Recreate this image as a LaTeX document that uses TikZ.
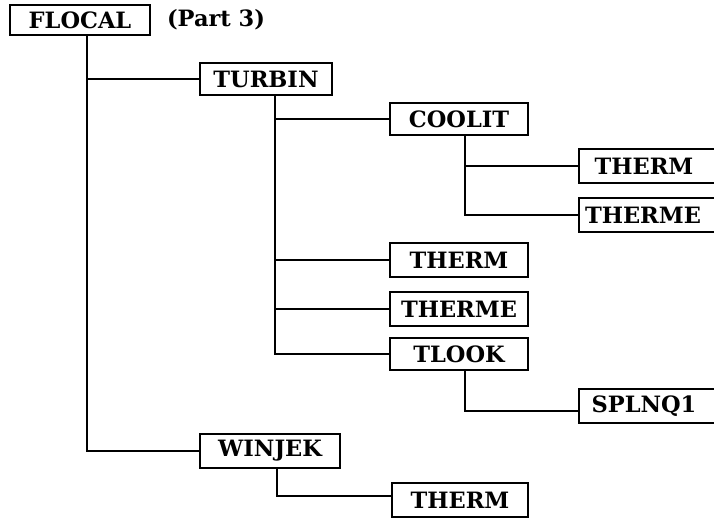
\documentclass[tikz,border=0pt]{standalone}
\usepackage{fontspec}
\setmainfont{DejaVu Serif}
\begin{document}
\begin{tikzpicture}[x=1pt,y=-1pt,
  lbl/.style={font=\fontsize{22.5}{24}\selectfont\bfseries},
  box/.style={draw,line width=2pt,inner sep=0pt,minimum height=#1,lbl},
  box/.default=32pt,
  cut/.style={box=#1,anchor=west,inner xsep=0pt,text width=170pt,align=left},
  link/.style={line width=2pt}]
\useasboundingbox (0,0) rectangle (714,519);
\clip (0,0) rectangle (714,519);
\node[box=30pt,minimum width=140pt] (flocal) at (80,20) {FLOCAL};
\node[lbl] (part) at (216,20) {(Part 3)};
\node[box,minimum width=132pt] (turbin) at (266,79) {TURBIN};
\node[box,minimum width=138pt] (coolit) at (459,119) {COOLIT};
\node[cut=34pt] (therma) at (578,166) {\makebox[130pt]{THERM}};
\node[cut=34pt] (thermea) at (578,215) {\makebox[128pt]{THERME}};
\node[box=34pt,minimum width=138pt] (thermb) at (459,260) {THERM};
\node[box=34pt,minimum width=138pt] (thermeb) at (459,309) {THERME};
\node[box,minimum width=138pt] (tlook) at (459,354) {TLOOK};
\node[cut=34pt] (splnq) at (578,406) {\makebox[130pt]{SPLNQ1}};
\node[box=34pt,minimum width=140pt] (winjek) at (270,451) {WINJEK};
\node[box=34pt,minimum width=136pt] (thermc) at (460,500) {THERM};
\draw[link] ([xshift=7pt]flocal.south) |- (turbin.west);
\draw[link] ([xshift=7pt]flocal.south) |- (winjek.west);
\draw[link] ([xshift=9pt]turbin.south) |- (coolit.west);
\draw[link] ([xshift=9pt]turbin.south) |- (thermb.west);
\draw[link] ([xshift=9pt]turbin.south) |- (thermeb.west);
\draw[link] ([xshift=9pt]turbin.south) |- (tlook.west);
\draw[link] ([xshift=6pt]coolit.south) |- (therma.west);
\draw[link] ([xshift=6pt]coolit.south) |- (thermea.west);
\draw[link] ([xshift=6pt]tlook.south) |- ([yshift=-5pt]splnq.west);
\draw[link] ([xshift=7pt]winjek.south) |- ([yshift=4pt]thermc.west);
\end{tikzpicture}
\end{document}
